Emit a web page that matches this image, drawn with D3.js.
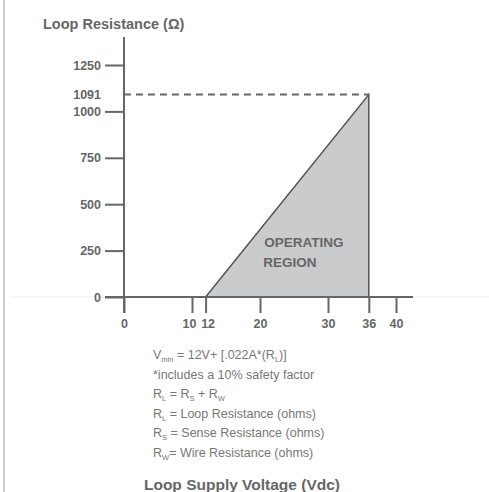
<!DOCTYPE html>
<html>
<head>
<meta charset="utf-8">
<script src="https://cdn.jsdelivr.net/npm/d3@7"></script>
<style>
  body { margin: 0; background: #fff; }
  text { font-family: "Liberation Sans", Arial, sans-serif; }
</style>
</head>
<body>
<div id="chart"></div>
<script>
// tick values
var xTicks = [0, 10, 12, 20, 30, 36, 40];
var yTicks = [0, 250, 500, 750, 1000, 1250];
var maxLabel = 1091;
// operating region corners (volts, ohms)
var regionV = [12, 36, 36];
var regionR = [0, 1091, 0];
var notes = [
    ["V", "min", " = 12V+ [.022A*(R", "L", ")]"],
    ["*includes a 10% safety factor"],
    ["R", "L", " = R", "S", " + R", "W"],
    ["R", "L", " = Loop Resistance (ohms)"],
    ["R", "S", " = Sense Resistance (ohms)"],
    ["R", "W", "= Wire Resistance (ohms)"]
];

var outwidth = 489, outheight = 492;
var axisCol = "#666";

var svg = d3.select("#chart")
    .append("svg")
    .attr("width", outwidth)
    .attr("height", outheight);

// page border and faint scan line
svg.append("line")
    .attr("x1", 4).attr("x2", 4).attr("y1", 0).attr("y2", outheight)
    .attr("stroke", "#bbb").attr("stroke-width", 1.5);

var x = d3.scaleLinear().domain([0, 40]).range([124, 396]);
var y = d3.scaleLinear().domain([0, 1250]).range([297, 65]);

svg.append("line")
    .attr("x1", 10).attr("x2", outwidth).attr("y1", y(0)).attr("y2", y(0))
    .attr("stroke", "#e8f0f4").attr("stroke-width", 1);

// operating region
var pts = regionV.map((v, i) => [x(v), y(regionR[i])]);
svg.append("polygon")
    .attr("points", pts.map(p => p.join(",")).join(" "))
    .attr("fill", "#c9cbcc")
    .attr("stroke", "#555")
    .attr("stroke-width", 1.5);

// dashed line to 1091
svg.append("line")
    .attr("x1", x(0)).attr("x2", x(36))
    .attr("y1", y(maxLabel)).attr("y2", y(maxLabel))
    .attr("stroke", "#666").attr("stroke-width", 2)
    .attr("stroke-dasharray", "7,5");

// y axis
var yAxis = d3.axisLeft(y).tickValues(yTicks).tickFormat(d3.format("d"))
    .tickSize(19).tickPadding(4);
var gy = svg.append("g").attr("transform", `translate(${x(0)},0)`).call(yAxis);
gy.select(".domain").remove();
svg.append("line")
    .attr("x1", x(0)).attr("x2", x(0)).attr("y1", 37).attr("y2", y(0) + 16)
    .attr("stroke", axisCol).attr("stroke-width", 2);
gy.append("text")
    .attr("x", -23).attr("y", y(maxLabel)).attr("dy", "0.32em")
    .attr("text-anchor", "end").text(maxLabel);

// x axis
var xAxis = d3.axisBottom(x).tickValues(xTicks).tickSize(16).tickPadding(6);
var gx = svg.append("g").attr("transform", `translate(0,${y(0)})`).call(xAxis);
gx.select(".domain").remove();
svg.append("line")
    .attr("x1", 105).attr("x2", 413).attr("y1", y(0)).attr("y2", y(0))
    .attr("stroke", axisCol).attr("stroke-width", 2);

[gx, gy].forEach(g => {
    g.selectAll(".tick line").attr("stroke", axisCol).attr("stroke-width", 2);
    g.selectAll("text").attr("fill", "#666").style("font-size", "12.5px").style("font-weight", "bold");
});
gx.selectAll(".tick text").attr("dx", d => d === 10 ? -3 : d === 12 ? 2 : 0);

// region label
svg.append("text")
    .attr("x", 304).attr("y", 247)
    .attr("text-anchor", "middle")
    .attr("fill", "#666").style("font-size", "13.5px").style("font-weight", "bold")
    .text("OPERATING");
svg.append("text")
    .attr("x", 290).attr("y", 267)
    .attr("text-anchor", "middle")
    .attr("fill", "#666").style("font-size", "13.5px").style("font-weight", "bold")
    .text("REGION");

// titles
svg.append("text")
    .attr("x", 43).attr("y", 29)
    .attr("fill", "#666").style("font-size", "14.5px").style("font-weight", "bold")
    .text("Loop Resistance (\u03A9)");
svg.append("text")
    .attr("x", 242).attr("y", 490)
    .attr("text-anchor", "middle")
    .attr("fill", "#666").style("font-size", "15.5px").style("font-weight", "bold")
    .text("Loop Supply Voltage (Vdc)");

// notes with subscripts
var noteG = svg.append("g").attr("fill", "#777").style("font-size", "12px");
notes.forEach((parts, i) => {
    var t = noteG.append("text").attr("x", 153).attr("y", 359 + i * 19.6);
    parts.forEach((p, j) => {
        var sub = parts.length > 1 && j % 2 === 1;
        t.append("tspan")
            .attr("dy", sub ? 3 : (j > 0 ? -3 : 0))
            .style("font-size", sub ? "7.5px" : "12.5px")
            .text(p);
    });
});
</script>
</body>
</html>
